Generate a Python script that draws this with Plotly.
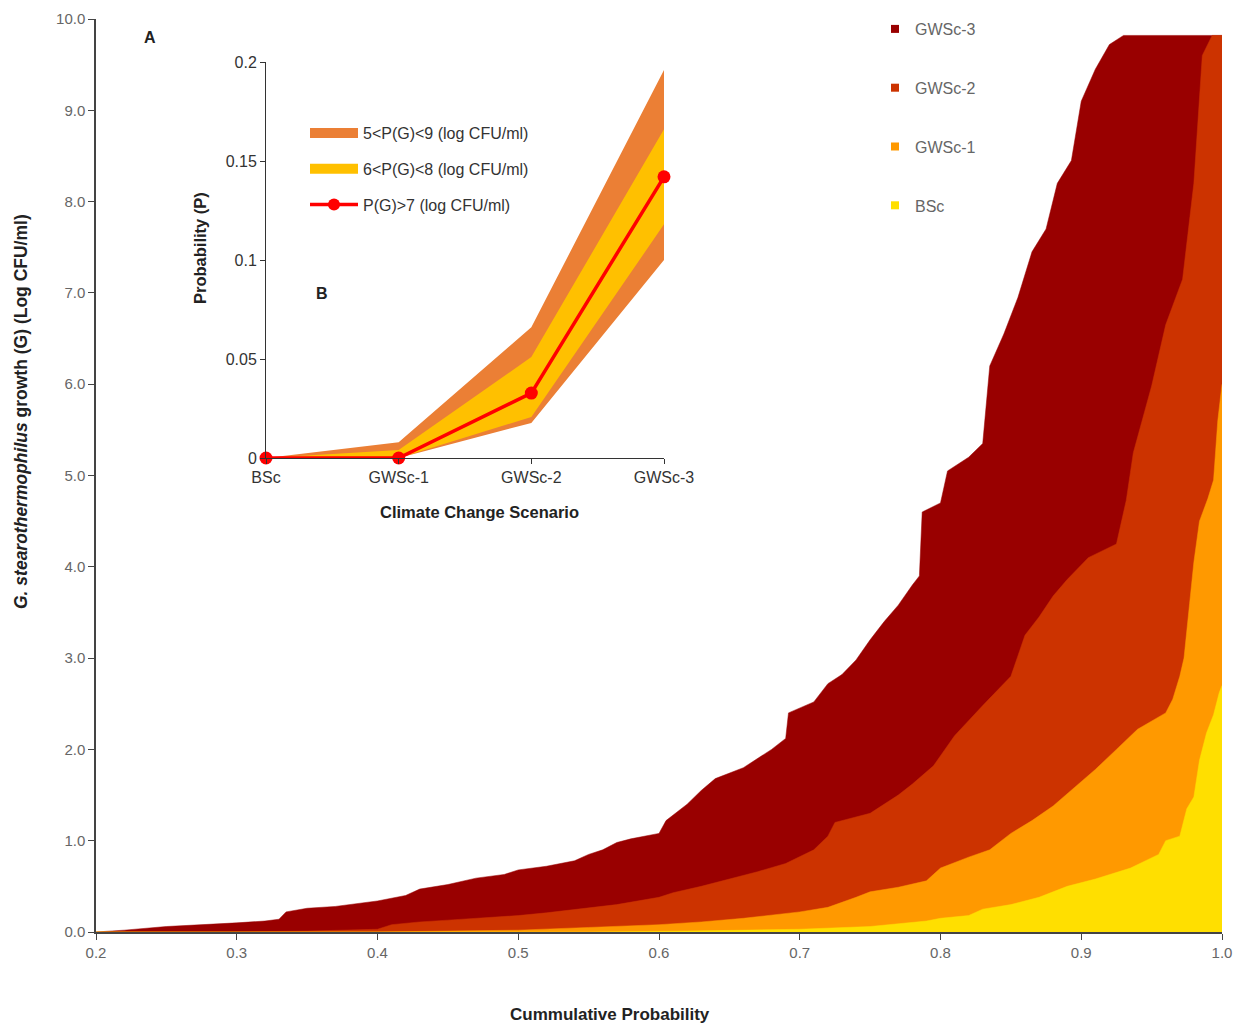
import plotly.graph_objects as go

# ---- Main panel (A): cumulative distributions of growth per scenario ----
gwsc3_x = [0.20, 0.22, 0.25, 0.28, 0.30, 0.32, 0.33, 0.335, 0.35, 0.37, 0.39, 0.40, 0.42, 0.43,
           0.45, 0.47, 0.49, 0.50, 0.52, 0.54, 0.55, 0.56, 0.57, 0.58, 0.60, 0.605, 0.62, 0.63,
           0.64, 0.66, 0.68, 0.69, 0.692, 0.70, 0.71, 0.72, 0.73, 0.74, 0.75, 0.76, 0.77, 0.78,
           0.785, 0.787, 0.80, 0.805, 0.82, 0.83, 0.835, 0.845, 0.855, 0.865, 0.875, 0.883,
           0.893, 0.90, 0.91, 0.92, 0.93, 1.00]
gwsc3_y = [0.00, 0.02, 0.06, 0.08, 0.10, 0.12, 0.14, 0.22, 0.26, 0.28, 0.32, 0.34, 0.40, 0.47,
           0.52, 0.59, 0.63, 0.68, 0.72, 0.78, 0.85, 0.90, 0.98, 1.02, 1.08, 1.22, 1.40, 1.55,
           1.68, 1.80, 2.00, 2.12, 2.40, 2.45, 2.52, 2.72, 2.82, 2.98, 3.20, 3.40, 3.58, 3.80,
           3.90, 4.60, 4.70, 5.05, 5.20, 5.35, 6.20, 6.55, 6.95, 7.45, 7.70, 8.20,
           8.45, 9.10, 9.45, 9.72, 9.82, 9.82]

gwsc2_x = [0.20, 0.30, 0.35, 0.40, 0.41, 0.43, 0.45, 0.47, 0.50, 0.52, 0.55, 0.57, 0.60, 0.61,
           0.63, 0.65, 0.67, 0.69, 0.71, 0.72, 0.725, 0.75, 0.77, 0.78, 0.795, 0.81, 0.82, 0.83,
           0.85, 0.86, 0.87, 0.88, 0.89, 0.905, 0.925, 0.928, 0.932, 0.937, 0.95, 0.96, 0.972,
           0.98, 0.986, 0.993, 1.00]
gwsc2_y = [0.00, 0.00, 0.01, 0.03, 0.08, 0.11, 0.13, 0.15, 0.18, 0.21, 0.26, 0.30, 0.38, 0.43,
           0.50, 0.58, 0.66, 0.75, 0.90, 1.05, 1.20, 1.30, 1.50, 1.62, 1.82, 2.15, 2.32, 2.48,
           2.80, 3.25, 3.45, 3.68, 3.86, 4.10, 4.25, 4.45, 4.73, 5.25, 5.98, 6.65, 7.15,
           8.20, 9.60, 9.82, 9.82]

gwsc1_x = [0.20, 0.40, 0.45, 0.50, 0.55, 0.60, 0.63, 0.66, 0.70, 0.72, 0.74, 0.75, 0.77, 0.79,
           0.80, 0.82, 0.835, 0.85, 0.865, 0.88, 0.895, 0.91, 0.925, 0.94, 0.96, 0.965, 0.97,
           0.973, 0.977, 0.98, 0.984, 0.99, 0.994, 0.997, 1.00]
gwsc1_y = [0.00, 0.00, 0.01, 0.02, 0.05, 0.08, 0.11, 0.15, 0.22, 0.27, 0.38, 0.44, 0.49, 0.56,
           0.70, 0.82, 0.90, 1.08, 1.22, 1.38, 1.58, 1.78, 2.00, 2.22, 2.40, 2.55, 2.80,
           3.00, 3.60, 4.05, 4.50, 4.75, 4.95, 5.60, 6.00]

bsc_x = [0.20, 0.55, 0.62, 0.70, 0.75, 0.77, 0.79, 0.80, 0.82, 0.83, 0.85, 0.87, 0.89, 0.91,
         0.935, 0.955, 0.96, 0.97, 0.975, 0.98, 0.984, 0.989, 0.994, 0.998, 1.00]
bsc_y = [0.00, 0.00, 0.01, 0.03, 0.06, 0.09, 0.12, 0.15, 0.18, 0.25, 0.30, 0.38, 0.50, 0.58,
         0.70, 0.85, 1.00, 1.05, 1.35, 1.48, 1.88, 2.18, 2.38, 2.62, 2.70]

main_xticks = [0.2, 0.3, 0.4, 0.5, 0.6, 0.7, 0.8, 0.9, 1.0]
main_yticks = [0, 1, 2, 3, 4, 5, 6, 7, 8, 9, 10]

# ---- Inset panel (B): probability of growth bands per scenario ----
scenarios = ["BSc", "GWSc-1", "GWSc-2", "GWSc-3"]
band59_low = [0.0, 0.0, 0.0177, 0.100]
band59_high = [0.0, 0.008, 0.066, 0.196]
band68_low = [0.0, 0.0, 0.0207, 0.118]
band68_high = [0.0, 0.004, 0.051, 0.166]
p_above7 = [0.0, 0.0, 0.0328, 0.142]
inset_yticks = [0, 0.05, 0.1, 0.15, 0.2]
inset_yticktext = ["0", "0.05", "0.1", "0.15", "0.2"]

FONT = "Liberation Sans, Arial, sans-serif"
series = [
    ("GWSc-3", gwsc3_x, gwsc3_y, "#990000"),
    ("GWSc-2", gwsc2_x, gwsc2_y, "#CC3300"),
    ("GWSc-1", gwsc1_x, gwsc1_y, "#FF9900"),
    ("BSc", bsc_x, bsc_y, "#FFDF00"),
]

# plot-area geometry in pixels (used to place paper-anchored text)
L, R, T, B = 96, 1222, 19, 932
def px(xp):
    return (xp - L) / (R - L)
def py(yp):
    return (B - yp) / (B - T)

fig = go.Figure()

# filled cumulative curves, largest scenario behind
for name, xs, ys, col in series:
    fig.add_trace(go.Scatter(
        x=xs, y=ys, mode="lines", line=dict(color=col, width=0.5),
        fill="tozeroy", fillcolor=col, showlegend=False, hoverinfo="skip",
        xaxis="x", yaxis="y"))

# square legend markers for the main panel
for name, xs, ys, col in series:
    fig.add_trace(go.Scatter(
        x=[None], y=[None], mode="markers", name=name,
        marker=dict(symbol="square", size=8, color=col),
        legend="legend", legendgroup=name, showlegend=True))

# inset bands
idx = list(range(len(scenarios)))
fig.add_trace(go.Scatter(x=idx, y=band59_low, mode="lines", line=dict(width=0),
                         showlegend=False, xaxis="x2", yaxis="y2", hoverinfo="skip"))
fig.add_trace(go.Scatter(x=idx, y=band59_high, mode="lines", line=dict(width=0),
                         fill="tonexty", fillcolor="#EB7F35", showlegend=False,
                         xaxis="x2", yaxis="y2", hoverinfo="skip"))
fig.add_trace(go.Scatter(x=idx, y=band68_low, mode="lines", line=dict(width=0),
                         showlegend=False, xaxis="x2", yaxis="y2", hoverinfo="skip"))
fig.add_trace(go.Scatter(x=idx, y=band68_high, mode="lines", line=dict(width=0),
                         fill="tonexty", fillcolor="#FFC000", showlegend=False,
                         xaxis="x2", yaxis="y2", hoverinfo="skip"))
fig.add_trace(go.Scatter(x=idx, y=p_above7, mode="lines+markers",
                         line=dict(color="#FF0000", width=3.5),
                         marker=dict(color="#FF0000", size=13),
                         cliponaxis=False, showlegend=False, xaxis="x2", yaxis="y2"))

# inset legend entries
fig.add_trace(go.Scatter(x=[None], y=[None], mode="lines", name="5<P(G)<9 (log CFU/ml)",
                         line=dict(color="#EB7F35", width=10), legend="legend2",
                         legendgroup="b1", xaxis="x2", yaxis="y2"))
fig.add_trace(go.Scatter(x=[None], y=[None], mode="lines", name="6<P(G)<8 (log CFU/ml)",
                         line=dict(color="#FFC000", width=10), legend="legend2",
                         legendgroup="b2", xaxis="x2", yaxis="y2"))
fig.add_trace(go.Scatter(x=[None], y=[None], mode="lines+markers", name="P(G)>7 (log CFU/ml)",
                         line=dict(color="#FF0000", width=3.5),
                         marker=dict(color="#FF0000", size=12), legend="legend2",
                         legendgroup="b3", xaxis="x2", yaxis="y2"))

axis_line = dict(showline=True, linecolor="#444444", linewidth=1.5, showgrid=False,
                 zeroline=False, ticks="outside", ticklen=6, tickcolor="#444444",
                 tickwidth=1.2, automargin=False)
inset_axis = dict(showline=True, linecolor="#333333", linewidth=1, showgrid=False,
                  zeroline=False, ticks="outside", ticklen=5, tickcolor="#333333",
                  automargin=False, tickfont=dict(size=16, color="#333333"))

fig.update_layout(
    width=1248, height=1025,
    margin=dict(l=L, r=1248 - R, t=T, b=1025 - B, autoexpand=False),
    paper_bgcolor="white", plot_bgcolor="white",
    font=dict(family=FONT, size=15, color="#666666"),
    xaxis=dict(range=[0.2, 1.0], tickvals=main_xticks, tickformat=".1f",
               tickfont=dict(size=15, color="#666666"), **axis_line),
    yaxis=dict(range=[0, 10], tickvals=main_yticks, tickformat=".1f",
               tickfont=dict(size=15, color="#666666"), **axis_line),
    xaxis2=dict(domain=[px(266), px(664)], anchor="y2", range=[0, 3], tickvals=idx,
                ticktext=scenarios, **inset_axis),
    yaxis2=dict(domain=[py(458), py(62)], anchor="x2", range=[0, 0.2],
                tickvals=inset_yticks, ticktext=inset_yticktext, **inset_axis),
    legend=dict(x=px(875), y=py(12), xanchor="left", yanchor="top",
                bgcolor="rgba(0,0,0,0)", font=dict(size=16, color="#666666"),
                tracegroupgap=35, itemwidth=30),
    legend2=dict(x=px(305), y=py(116), xanchor="left", yanchor="top",
                 bgcolor="rgba(0,0,0,0)", font=dict(size=16, color="#333333"),
                 tracegroupgap=12, itemwidth=48),
    showlegend=True,
)

def label(text, x, y, size=16, angle=0):
    fig.add_annotation(text=text, xref="paper", yref="paper", x=px(x), y=py(y),
                       xanchor="center", yanchor="middle", textangle=angle,
                       showarrow=False, font=dict(size=size, color="#222222", family=FONT))

label("<b>A</b>", 150, 37)
label("<b>B</b>", 322, 293)
label("<b><i>G. stearothermophilus</i> growth (G) (Log CFU/ml)</b>", 21, 412, size=17.5, angle=-90)
label("<b>Cummulative Probability</b>", 610, 1015, size=17)
label("<b>Probability (P)</b>", 200, 248, size=16.5, angle=-90)
label("<b>Climate Change Scenario</b>", 479, 512, size=16.5)

fig.write_html("out.html")
